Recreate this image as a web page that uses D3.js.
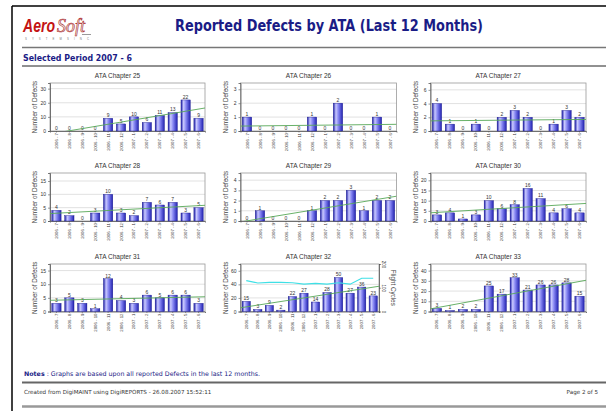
<!DOCTYPE html>
<html>
<head>
<meta charset="utf-8">
<script src="https://cdn.jsdelivr.net/npm/d3@7"></script>
<style>
  html, body { margin: 0; padding: 0; background: #fff; }
  svg { display: block; }
</style>
</head>
<body>
<svg id="svgArea" width="606" height="411"></svg>
<script>
// --- data ---
var months = ["2006 - 7", "2006 - 8", "2006 - 9", "2006 - 10", "2006 - 11", "2006 - 12",
              "2007 - 1", "2007 - 2", "2007 - 3", "2007 - 4", "2007 - 5", "2007 - 6"];
var chapters = ["25", "26", "27", "28", "29", "30", "31", "32", "33"];

var defects25 = [0, 0, 0, 0, 9, 5, 10, 6, 11, 13, 22, 9];
var defects26 = [1, 0, 0, 0, 0, 1, 0, 2, 0, 0, 1, 0];
var defects27 = [4, 1, 0, 1, 0, 2, 3, 2, 0, 1, 3, 2];
var defects28 = [4, 2, 0, 3, 10, 3, 2, 7, 6, 7, 3, 5];
var defects29 = [0, 1, 0, 0, 0, 1, 2, 2, 3, 1, 2, 2];
var defects30 = [3, 4, 1, 3, 10, 6, 8, 16, 11, 4, 6, 4];
var defects31 = [3, 5, 3, 1, 12, 4, 3, 6, 5, 6, 6, 3];
var defects32 = [15, 3, 9, 2, 22, 27, 14, 28, 50, 27, 36, 23];
var defects33 = [3, 1, 2, 2, 25, 17, 33, 21, 26, 26, 28, 15];

var flightCycles32 = [130, 120, 123, 123, 121, 115, 118, 115, 121, 115, 140, 140];
var cyclesTicks = [0, 100, 200];

var axisMax = [34, 3.45, 7, 18, 4.7, 23.6, 17.4, 70, 46.5];
var tickStep = [10, 1, 2, 5, 1, 5, 5, 20, 10];

var allDefects = [defects25, defects26, defects27, defects28, defects29,
                  defects30, defects31, defects32, defects33];

// --- layout ---
var cols = [{l: 50, r: 205}, {l: 240.5, r: 396.5}, {l: 430.5, r: 586}];
var rows = [{t: 83, b: 131}, {t: 173, b: 221}, {t: 264, b: 311.5}];
var navy = "#1a1c86";

var svg = d3.select("#svgArea");

// bar gradient
var defs = svg.append("defs");
var grad = defs.append("linearGradient")
    .attr("id", "barGrad")
    .attr("x1", "0").attr("x2", "1").attr("y1", "0").attr("y2", "0");
[["0%", "#1a1aa6"], ["28%", "#c9c9ff"], ["55%", "#8585f2"], ["100%", "#2222b0"]].forEach(function (s) {
    grad.append("stop").attr("offset", s[0]).attr("stop-color", s[1]);
});

drawPage();

chapters.forEach(function (ch, i) {
    var col = cols[i % 3];
    var row = rows[Math.floor(i / 3)];
    var right = ch === "32" ? 379 : col.r;
    drawChart(i, col.l, right, row.t, row.b, col.r);
});

function drawPage() {
    // page borders
    svg.append("line").attr("x1", 12).attr("x2", 12).attr("y1", 6).attr("y2", 411)
        .attr("stroke", "#000").attr("stroke-width", 1.5);
    svg.append("line").attr("x1", 12).attr("x2", 606).attr("y1", 6).attr("y2", 6)
        .attr("stroke", "#000").attr("stroke-width", 1.5);

    // logo
    svg.append("text")
        .text("Aero")
        .attr("transform", "translate(23,32) scale(0.74,1)")
        .attr("font-family", "Liberation Sans, Arial, sans-serif")
        .attr("font-weight", "bold").attr("font-style", "italic")
        .attr("font-size", 19)
        .attr("fill", "#c41414");
    svg.append("text")
        .text("Soft")
        .attr("transform", "translate(57,32)")
        .attr("font-family", "Liberation Serif, serif")
        .attr("font-style", "italic")
        .attr("font-size", 18)
        .attr("fill", "#e8e8e8").attr("stroke", "#b03030").attr("stroke-width", 0.6);
    svg.append("line").attr("x1", 82).attr("x2", 91).attr("y1", 34.5).attr("y2", 34.5)
        .attr("stroke", "#555").attr("stroke-width", 0.6);
    svg.append("text")
        .text("S Y S T E M S   I N C")
        .attr("x", 25).attr("y", 40)
        .attr("font-family", "Liberation Sans, sans-serif")
        .attr("font-size", 2.8)
        .attr("textLength", 64).attr("lengthAdjust", "spacing")
        .attr("fill", "#777");

    // title
    svg.append("text")
        .text("Reported Defects by ATA (Last 12 Months)")
        .attr("x", 175).attr("y", 31)
        .attr("font-family", "DejaVu Sans, Verdana, sans-serif")
        .attr("font-weight", "bold")
        .attr("font-size", 15)
        .attr("textLength", 308).attr("lengthAdjust", "spacingAndGlyphs")
        .attr("fill", navy);

    svg.append("line").attr("x1", 22).attr("x2", 606).attr("y1", 47.5).attr("y2", 47.5)
        .attr("stroke", "#777").attr("stroke-width", 1.5);

    svg.append("text")
        .text("Selected Period 2007 - 6")
        .attr("x", 23).attr("y", 61)
        .attr("font-family", "DejaVu Sans, Tahoma, sans-serif")
        .attr("font-weight", "bold")
        .attr("font-size", 9.5)
        .attr("textLength", 109).attr("lengthAdjust", "spacingAndGlyphs")
        .attr("fill", navy);

    svg.append("line").attr("x1", 22).attr("x2", 606).attr("y1", 66).attr("y2", 66)
        .attr("stroke", "#222").attr("stroke-width", 1);

    // notes + footer
    var notes = svg.append("text")
        .attr("x", 24).attr("y", 376)
        .attr("font-family", "DejaVu Sans, Tahoma, sans-serif")
        .attr("font-size", 6.3)
        .attr("fill", navy);
    notes.append("tspan").attr("font-weight", "bold").text("Notes");
    notes.append("tspan").text(" : Graphs are based upon all reported Defects in the last 12 months.");

    svg.append("line").attr("x1", 22).attr("x2", 606).attr("y1", 382.5).attr("y2", 382.5)
        .attr("stroke", "#666").attr("stroke-width", 2);

    svg.append("text")
        .text("Created from DigiMAINT using DigiREPORTS - 26.08.2007 15:52:11")
        .attr("x", 24).attr("y", 394)
        .attr("font-family", "DejaVu Sans, Tahoma, sans-serif")
        .attr("font-size", 5.6)
        .attr("fill", "#333");
    svg.append("text")
        .text("Page 2 of 5")
        .attr("x", 598).attr("y", 394)
        .attr("text-anchor", "end")
        .attr("font-family", "DejaVu Sans, Tahoma, sans-serif")
        .attr("font-size", 5.6)
        .attr("fill", "#333");

    svg.append("line").attr("x1", 22).attr("x2", 606).attr("y1", 406.5).attr("y2", 406.5)
        .attr("stroke", "#999").attr("stroke-width", 2.5);
}

function drawChart(idx, left, right, top, bottom, boxRight) {
    var values = allDefects[idx];
    var g = svg.append("g");
    var font = "Liberation Sans, Arial, sans-serif";

    var x = d3.scaleBand()
        .domain(months)
        .range([left, right])
        .paddingInner(0.28)
        .paddingOuter(0.14);
    var xi = d3.scaleLinear().domain([-0.5, months.length - 0.5]).range([left, right]);
    var y = d3.scaleLinear().domain([0, axisMax[idx]]).range([bottom, top]);
    var ticks = d3.range(0, axisMax[idx] + 1e-9, tickStep[idx]);

    // title
    g.append("text")
        .text("ATA Chapter " + chapters[idx])
        .attr("x", (left - 20 + boxRight) / 2)
        .attr("y", top - 5)
        .attr("text-anchor", "middle")
        .attr("font-family", font)
        .attr("font-size", 6.5)
        .attr("fill", "#333");

    // grid
    g.selectAll(".grid").data(ticks.filter(function (t) { return t > 0; }))
        .enter().append("line")
        .attr("x1", left).attr("x2", right)
        .attr("y1", function (d) { return y(d); })
        .attr("y2", function (d) { return y(d); })
        .attr("stroke", "#d4d4d4").attr("stroke-width", 0.7);

    // frame
    g.append("rect")
        .attr("x", left).attr("y", top)
        .attr("width", right - left).attr("height", bottom - top)
        .attr("fill", "none").attr("stroke", "#9a9a9a").attr("stroke-width", 0.8);

    // y axis
    var yAxis = g.append("g")
        .attr("transform", "translate(" + left + ",0)")
        .call(d3.axisLeft(y).tickValues(ticks).tickFormat(d3.format("d")).tickSize(2).tickPadding(2));
    yAxis.select(".domain").attr("stroke", "#555").attr("stroke-width", 0.8);
    yAxis.selectAll(".tick line").attr("stroke", "#555").attr("stroke-width", 0.6);
    yAxis.selectAll("text").attr("font-family", font).attr("font-size", 5).attr("fill", "#333");

    g.append("text")
        .text("Number of Defects")
        .attr("transform", "translate(" + (left - 13) + "," + ((top + bottom) / 2) + ") rotate(-90)")
        .attr("text-anchor", "middle")
        .attr("font-family", font)
        .attr("font-size", 6.3)
        .attr("fill", "#444");

    // x axis
    var xAxis = g.append("g")
        .attr("transform", "translate(0," + bottom + ")")
        .call(d3.axisBottom(x).tickSize(1.5).tickPadding(2));
    xAxis.select(".domain").attr("stroke", "#555").attr("stroke-width", 0.8);
    xAxis.selectAll(".tick line").attr("stroke", "#555").attr("stroke-width", 0.6);
    xAxis.selectAll("text")
        .attr("font-family", font)
        .attr("font-size", 4.3)
        .attr("fill", "#333")
        .attr("text-anchor", "end")
        .attr("dy", "0.35em")
        .attr("transform", "translate(0,2) rotate(-90)")
        .attr("x", 0).attr("y", 0);

    // bars
    g.selectAll(".bar").data(values)
        .enter().append("rect")
        .attr("x", function (d, i) { return x(months[i]); })
        .attr("y", function (d) { return y(d); })
        .attr("width", x.bandwidth())
        .attr("height", function (d) { return bottom - y(d); })
        .attr("fill", "url(#barGrad)")
        .attr("stroke", "#14148a").attr("stroke-width", 0.4);

    // value labels
    g.selectAll(".val").data(values)
        .enter().append("text")
        .text(function (d) { return d; })
        .attr("x", function (d, i) { return x(months[i]) + x.bandwidth() / 2; })
        .attr("y", function (d) { return y(d) - 1.2; })
        .attr("text-anchor", "middle")
        .attr("font-family", font)
        .attr("font-size", 5)
        .attr("fill", "#333");

    // trend line (least squares over the bars), clipped to the plot
    var clipId = "clip" + idx;
    defs.append("clipPath").attr("id", clipId)
        .append("rect").attr("x", left).attr("y", top)
        .attr("width", right - left).attr("height", bottom - top);
    var n = values.length;
    var mx = d3.mean(values, function (d, i) { return i; });
    var my = d3.mean(values);
    var sxy = d3.sum(values, function (d, i) { return (i - mx) * (d - my); });
    var sxx = d3.sum(values, function (d, i) { return (i - mx) * (i - mx); });
    var slope = sxy / sxx;
    var trend = [-0.5, n - 0.5].map(function (i) { return [xi(i), y(my + slope * (i - mx))]; });
    g.append("path")
        .attr("clip-path", "url(#" + clipId + ")")
        .attr("d", d3.line()(trend))
        .attr("fill", "none")
        .attr("stroke", "#58a858")
        .attr("stroke-width", 0.9);

    if (chapters[idx] === "32") {
        var y2 = d3.scaleLinear().domain([0, 200]).range([bottom, top]);
        g.append("path")
            .datum(flightCycles32)
            .attr("d", d3.line()
                .x(function (d, i) { return x(months[i]) + x.bandwidth() / 2; })
                .y(function (d) { return y2(d); }))
            .attr("fill", "none")
            .attr("stroke", "#3fe0e6")
            .attr("stroke-width", 1.2);
        var rAxis = g.append("g")
            .attr("transform", "translate(" + right + ",0)")
            .call(d3.axisRight(y2).tickValues(cyclesTicks).tickSize(1.5).tickPadding(1.5));
        rAxis.select(".domain").attr("stroke", "#555").attr("stroke-width", 0.8);
        rAxis.selectAll(".tick line").attr("stroke", "#555");
        rAxis.selectAll("text")
            .attr("font-family", font).attr("font-size", 4.5).attr("fill", "#333")
            .attr("text-anchor", "middle")
            .attr("transform", function () { return "translate(5,0) rotate(90)"; })
            .attr("x", 0).attr("dy", "0.35em").attr("y", 0);
        g.append("text")
            .text("Flight Cycles")
            .attr("transform", "translate(" + (right + 12) + "," + ((top + bottom) / 2) + ") rotate(90)")
            .attr("text-anchor", "middle")
            .attr("font-family", font)
            .attr("font-size", 6.3)
            .attr("fill", "#444");
    }
}
</script>
</body>
</html>
